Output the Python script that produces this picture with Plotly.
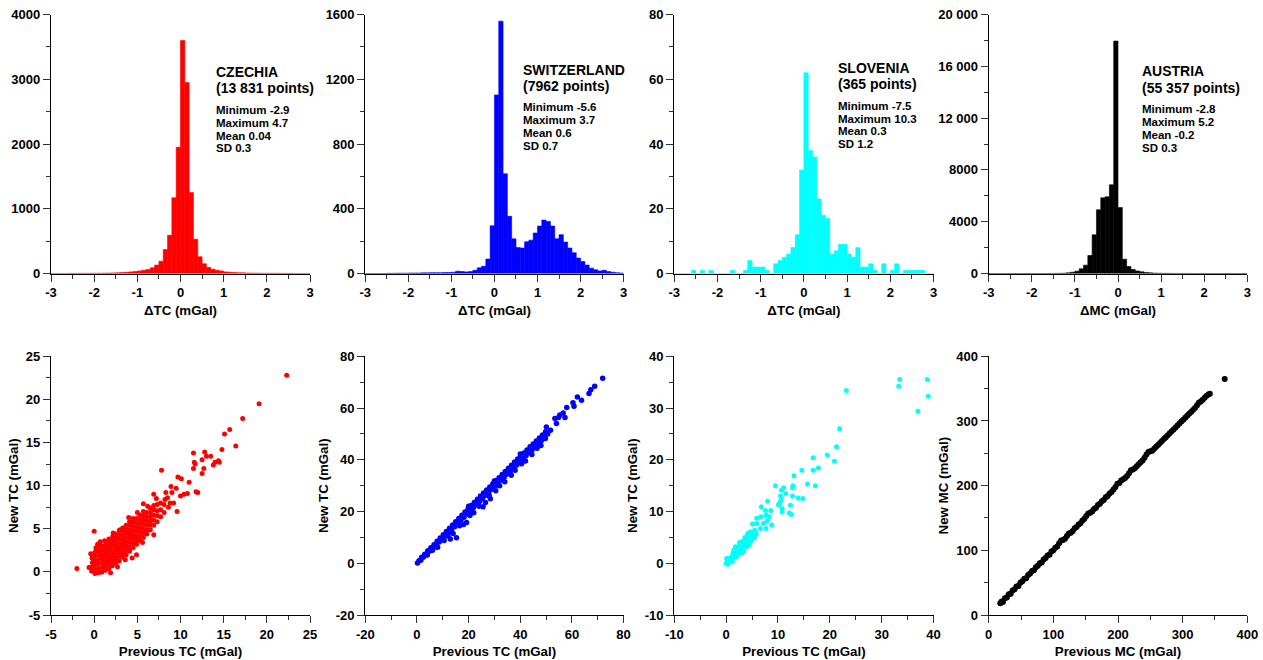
import numpy as np
import plotly.graph_objects as go

W, H = 1263, 660

# histogram bins: 60 bins of 0.1 mGal from -3 to 3 (bin centres)
bin_centres = np.round(np.arange(-2.95, 3.0, 0.1), 2)

czechia_counts = [1, 1, 1, 1, 2, 2, 2, 3, 3, 4, 4, 5, 6, 7, 9, 11, 14, 18,
                  25, 30, 40, 50, 60, 90, 130, 190, 370, 590, 1170, 1950,
                  3600, 2950, 1250, 530, 260, 150, 95, 67, 50, 40, 25, 20, 15, 12, 10,
                  8, 7, 6, 5, 4, 4, 3, 3, 2, 2, 2, 1, 1, 1, 1]
switzerland_counts = [0, 0, 0, 0, 0, 1, 1, 2, 2, 2, 3, 3, 3, 4, 4, 5, 5, 5,
                      6, 6, 8, 14, 12, 10, 12, 20, 35, 45, 89, 295,
                      1103, 1559, 616, 353, 214, 161, 157, 196, 206, 250, 293, 330, 322, 293, 214,
                      240, 194, 157, 128, 95, 74, 52, 33, 23, 16, 20, 12, 8, 5, 3]
slovenia_counts = [0, 0, 0, 0, 1, 0, 1, 0, 1, 0, 0, 0, 0, 1, 0, 0, 1, 4,
                   2, 2, 2, 1, 0, 3, 4, 5, 6, 8, 12, 32,
                   62, 38, 36, 23, 18, 17, 6, 7, 9, 9, 6, 5, 8, 2, 2,
                   3, 1, 0, 3, 0, 1, 3, 0, 1, 1, 1, 1, 1, 0, 0]
austria_counts = [0, 0, 0, 0, 0, 0, 0, 0, 0, 0, 1, 1, 2, 3, 5, 8, 12, 20,
                  50, 100, 180, 360, 644, 1390, 2986, 4916, 5843, 5920, 6847, 17950,
                  5097, 1107, 540, 310, 200, 130, 80, 50, 30, 20, 15, 10, 8, 6, 5,
                  4, 3, 3, 2, 2, 1, 1, 1, 1, 1, 0, 0, 0, 0, 0]

# scatter points (previous, new) in mGal
czechia_pts = [
    (-0.3, 0.1), (-0.3, 0.6), (-0.2, 1.1), (-0.25, 1.6), (-0.6, 0.5), (-2.0, 0.4), (-0.4, 2.1),
    (0.1, -0.2), (0.1, 0.3), (0.05, 0.8), (0.1, 1.3), (0.05, 1.8), (0.1, 2.3), (0.0, 4.7), (0.2, 2.8),
    (0.5, -0.1), (0.5, 0.4), (0.45, 0.9), (0.5, 1.4), (0.5, 1.9), (0.55, 2.4), (0.5, 2.9), (0.4, 3.2),
    (0.9, 0.0), (0.9, 0.5), (0.95, 1.0), (0.9, 1.5), (0.9, 2.0), (0.95, 2.5), (0.9, 3.0), (0.7, 3.5),
    (1.3, 0.2), (1.3, 0.7), (1.35, 1.2), (1.3, 1.7), (1.3, 2.2), (1.3, 2.7), (1.35, 3.2), (1.2, 3.6),
    (1.7, 0.4), (1.7, 0.9), (1.75, 1.4), (1.7, 1.9), (1.7, 2.4), (1.7, 2.9), (1.75, 3.4), (1.7, 3.8),
    (2.1, 0.7), (2.1, 1.2), (2.1, 1.7), (2.15, 2.2), (2.1, 2.7), (2.1, 3.2), (2.1, 3.7), (2.15, 4.1),
    (2.5, 1.0), (2.5, 1.5), (2.5, 2.0), (2.55, 2.5), (2.5, 3.0), (2.5, 3.5), (2.5, 4.0), (2.5, 4.4),
    (2.9, 1.3), (2.9, 1.8), (2.9, 2.3), (2.9, 2.8), (2.95, 3.3), (2.9, 3.8), (2.9, 4.3), (2.9, 4.8),
    (3.3, 1.7), (3.3, 2.2), (3.3, 2.7), (3.3, 3.2), (3.3, 3.7), (3.35, 4.2), (3.3, 4.7), (3.3, 5.1),
    (3.7, 2.0), (3.7, 2.5), (3.7, 3.0), (3.7, 3.5), (3.7, 4.0), (3.7, 4.5), (3.75, 5.0), (3.7, 5.4),
    (4.1, 2.4), (4.1, 2.9), (4.1, 3.4), (4.1, 3.9), (4.1, 4.4), (4.1, 4.9), (4.1, 5.4), (4.1, 5.8),
    (4.5, 2.8), (4.5, 3.3), (4.5, 3.8), (4.5, 4.3), (4.5, 4.8), (4.5, 5.3), (4.5, 5.8), (4.5, 6.2),
    (4.9, 3.2), (4.9, 3.7), (4.9, 4.2), (4.9, 4.7), (4.9, 5.2), (4.9, 5.7), (4.9, 6.2), (5.0, 6.9),
    (5.3, 3.6), (5.3, 4.1), (5.3, 4.6), (5.3, 5.1), (5.3, 5.6), (5.3, 6.1), (5.3, 6.6),
    (5.7, 4.0), (5.7, 4.5), (5.7, 5.0), (5.7, 5.5), (5.7, 6.0), (5.7, 6.5), (5.7, 7.0), (5.7, 7.9),
    (6.1, 4.4), (6.1, 4.9), (6.1, 5.4), (6.1, 5.9), (6.1, 6.4), (6.1, 6.9),
    (6.5, 4.9), (6.5, 5.4), (6.5, 5.9), (6.5, 6.4), (6.5, 6.9), (6.5, 7.4),
    (6.9, 5.4), (6.9, 6.0), (6.9, 6.6), (6.9, 7.2), (6.9, 7.7), (6.9, 9.0), (6.9, 4.3),
    (7.3, 5.8), (7.3, 6.5), (7.3, 7.1), (7.3, 7.8), (7.7, 6.4), (7.7, 7.2), (7.7, 8.0), (7.8, 11.8),
    (8.1, 6.9), (8.1, 7.8), (8.2, 8.4), (8.6, 7.5), (8.5, 8.6), (8.9, 9.9), (9.2, 8.0), (9.5, 9.7),
    (9.6, 7.0), (9.7, 11.0), (10.0, 8.8), (10.1, 10.8), (10.4, 9.0), (10.8, 9.1), (11.0, 10.4),
    (3.0, 4.9), (4.4, 1.6), (4.9, 2.0), (2.2, 4.5), (3.6, 1.4), (5.6, 3.4), (1.9, -0.1), (7.2, 8.5),
    (8.3, 9.2), (6.2, 7.6), (4.0, 6.3), (2.7, 0.6), (8.8, 8.0), (9.0, 9.2),
    (11.5, 13.8), (11.6, 12.7), (11.7, 12.5), (11.5, 12.0), (11.8, 9.3), (12.0, 9.2),
    (12.5, 13.0), (12.7, 12.0), (12.5, 11.4), (12.8, 13.9), (13.0, 13.4), (13.5, 13.4),
    (13.8, 12.4), (14.0, 12.7), (14.5, 12.7), (14.4, 12.9), (14.8, 14.2), (16.4, 14.6),
    (15.1, 16.0), (15.7, 16.5), (17.2, 17.8), (19.1, 19.5), (22.3, 22.8),
]
switzerland_pts = [
    (0.2, 0.1), (0.8, 1.0), (1.5, 1.2), (1.8, 2.3), (2.6, 2.4), (3.0, 3.5), (3.8, 3.6), (4.2, 4.8),
    (5.0, 4.7), (5.4, 6.0), (6.2, 5.9), (6.6, 7.2), (7.4, 7.0), (7.8, 8.5), (8.6, 8.2), (9.0, 9.8),
    (9.8, 9.3), (10.2, 11.0), (11.0, 10.6), (11.4, 12.3), (12.2, 11.8), (12.6, 13.5), (13.4, 13.0),
    (13.8, 14.8), (14.6, 14.1), (15.0, 16.0), (15.8, 15.3), (16.2, 17.3), (17.0, 16.6), (17.4, 18.6),
    (18.2, 17.8), (18.6, 19.8), (19.4, 19.0), (19.8, 21.0), (20.6, 20.3), (21.0, 22.3), (21.8, 21.4),
    (22.2, 23.5), (23.0, 22.6), (23.4, 24.7), (24.2, 23.9), (24.6, 26.0), (25.4, 25.0), (25.8, 27.2),
    (26.6, 26.3), (27.0, 28.3), (27.8, 27.4), (28.2, 29.5), (29.0, 28.6), (29.4, 30.7), (30.2, 29.8),
    (30.6, 32.0), (31.4, 31.0), (31.8, 33.1), (32.6, 32.2), (33.0, 34.3), (33.8, 33.3), (34.2, 35.5),
    (35.0, 34.5), (35.4, 36.7), (36.2, 35.7), (36.6, 37.9), (37.4, 36.9), (37.8, 39.1), (38.6, 38.0),
    (39.0, 40.3), (39.8, 39.2), (40.2, 41.5), (41.0, 40.4), (41.4, 42.6), (42.2, 41.6), (42.6, 43.8),
    (43.4, 42.7), (43.8, 45.0), (44.6, 43.9), (45.0, 46.1), (45.8, 45.1), (46.2, 47.3), (47.0, 46.3),
    (47.4, 48.4), (48.2, 47.5), (48.6, 49.6), (49.4, 48.7), (49.8, 50.8), (50.6, 50.0), (50.1, 52.7),
    (14.0, 11.5), (18.0, 15.0), (22.0, 19.5), (26.5, 23.5), (30.5, 28.0), (34.0, 31.5), (36.5, 34.0),
    (42.0, 39.5), (44.5, 42.0), (10.5, 8.8), (8.0, 6.2), (48.0, 45.5), (25.6, 21.8), (28.4, 24.9),
    (19.2, 15.8), (15.3, 9.9), (12.9, 9.4), (7.6, 6.4), (49.7, 48.2), (51.7, 51.4),
    (16.5, 14.5), (20.5, 18.5), (24.0, 22.0), (28.0, 26.0), (32.0, 30.0), (38.0, 36.0), (40.5, 38.5),
    (46.5, 44.5), (12.0, 10.5), (6.0, 5.0), (4.0, 3.2), (20.0, 22.0), (30.0, 31.8), (40.0, 42.2),
    (53.4, 56.0), (54.0, 54.0), (54.8, 56.3), (55.3, 57.3), (57.3, 56.3), (56.6, 58.1),
    (58.0, 60.2), (60.8, 60.7), (60.4, 62.0), (62.1, 64.3), (63.7, 63.0), (66.6, 65.6),
    (67.3, 67.1), (68.8, 68.4), (71.9, 71.5),
]
slovenia_pts = [
    (0.0, 0.0), (0.2, 0.8), (0.5, 0.2), (0.8, 0.6), (1.0, 1.2), (1.2, 0.4), (1.3, 1.8), (1.5, 2.6),
    (1.6, 1.1), (1.8, 3.2), (1.9, 1.7), (2.1, 2.4), (2.2, 3.0), (2.4, 1.9), (2.5, 3.4), (2.7, 2.5),
    (2.8, 3.8), (3.0, 2.9), (3.1, 4.2), (3.3, 3.4), (3.4, 2.3), (3.5, 4.4), (3.7, 3.7), (3.8, 4.9),
    (4.0, 4.1), (4.1, 5.4), (4.3, 4.6), (4.4, 3.6), (4.5, 5.2), (4.7, 5.8), (4.8, 4.4), (5.0, 5.5),
    (5.2, 6.0), (5.4, 4.9), (5.5, 6.4), (5.8, 5.6), (3.0, 2.0), (2.0, 1.3), (1.0, 0.4), (0.3, -0.2),
    (1.4, 2.2), (2.6, 4.0), (3.6, 5.0), (4.2, 5.8), (0.6, 0.9), (2.3, 2.5), (3.9, 3.2), (0.1, 0.9),
    (4.7, 6.1), (5.5, 5.3), (5.6, 6.1), (5.9, 8.7), (5.1, 7.6), (5.9, 7.7), (6.6, 6.7), (7.7, 6.7),
    (7.2, 7.7), (8.8, 7.4), (7.9, 8.2), (8.3, 9.0), (6.7, 9.0), (7.7, 9.3), (7.6, 10.2), (8.6, 10.2),
    (6.8, 10.9), (8.0, 12.0), (10.6, 12.2), (10.8, 9.9), (10.1, 11.3), (10.8, 10.6), (10.3, 11.6),
    (10.5, 13.0), (9.5, 15.0), (10.7, 14.1), (11.1, 14.6), (11.5, 13.5), (12.2, 9.7), (12.6, 9.4),
    (12.4, 11.2), (12.8, 13.0), (12.9, 15.0), (12.8, 14.6), (13.9, 12.6), (14.8, 12.5), (17.2, 15.0),
    (15.7, 15.3), (13.1, 16.9), (14.6, 18.0), (16.8, 18.0), (17.8, 18.4), (16.8, 20.4), (19.5, 20.9),
    (20.9, 19.7), (21.3, 22.5), (21.9, 26.0), (23.2, 33.4), (33.3, 34.2), (33.5, 35.5), (38.8, 35.5),
    (39.0, 32.3), (37.0, 29.4),
]
austria_pts = [
    (18, 18), (20, 21), (22, 20), (25, 26), (28, 27), (31, 32), (34, 33), (37, 38), (40, 40), (43, 44),
    (46, 45), (49, 50), (52, 52), (55, 56), (58, 57), (61, 62), (64, 64), (67, 68), (70, 69), (73, 74),
    (76, 76), (79, 80), (82, 81), (85, 86), (88, 88), (91, 92), (94, 93), (97, 98), (100, 100),
    (103, 104), (106, 106), (109, 111), (112, 115), (115, 116), (118, 118), (121, 122), (124, 126),
    (127, 127), (130, 130), (133, 134), (136, 136), (139, 140), (142, 142), (145, 146), (148, 149),
    (151, 153), (154, 157), (157, 158), (160, 160), (163, 164), (166, 166), (169, 170), (172, 172),
    (175, 176), (178, 178), (181, 182), (184, 184), (187, 188), (190, 190), (193, 194), (196, 198),
    (199, 203), (202, 204), (205, 208), (208, 210), (211, 212), (214, 215), (217, 219), (220, 224),
    (223, 225), (226, 227), (229, 230), (232, 233), (235, 236), (238, 239), (241, 243), (244, 248),
    (247, 252), (250, 253), (253, 254), (256, 257), (259, 260), (262, 263), (265, 266), (268, 269),
    (271, 272), (274, 275), (277, 278), (280, 281), (283, 284), (286, 287), (289, 290), (292, 293),
    (295, 296), (298, 299), (301, 302), (304, 305), (307, 308), (310, 311), (313, 314), (316, 317),
    (319, 320), (322, 324), (325, 328), (328, 330), (331, 333), (334, 336), (337, 339), (340, 341),
    (342, 342), (365, 365),
]

hist_x_ticks = [-3, -2, -1, 0, 1, 2, 3]
hist_x_labels = ["-3", "-2", "-1", "0", "1", "2", "3"]
austria_y_ticks = [0, 4000, 8000, 12000, 16000, 20000]
austria_y_labels = ["0", "4000", "8000", "12 000", "16 000", "20 000"]
# scatter axes share the same ticks on x and y
scatter_ticks = [
    [-5, 0, 5, 10, 15, 20, 25],
    [-20, 0, 20, 40, 60, 80],
    [-10, 0, 10, 20, 30, 40],
    [0, 100, 200, 300, 400],
]
scatter_labels = [
    ["-5", "0", "5", "10", "15", "20", "25"],
    ["-20", "0", "20", "40", "60", "80"],
    ["-10", "0", "10", "20", "30", "40"],
    ["0", "100", "200", "300", "400"],
]

panels = [
    # name, points label, stats, colour, counts, scatter pts, quantity
    ("CZECHIA", "(13 831 points)", ["Minimum -2.9", "Maximum 4.7", "Mean 0.04", "SD 0.3"],
     "#ff0000", czechia_counts, czechia_pts, "TC"),
    ("SWITZERLAND", "(7962 points)", ["Minimum -5.6", "Maximum 3.7", "Mean 0.6", "SD 0.7"],
     "#0000ff", switzerland_counts, switzerland_pts, "TC"),
    ("SLOVENIA", "(365 points)", ["Minimum -7.5", "Maximum 10.3", "Mean 0.3", "SD 1.2"],
     "#00ffff", slovenia_counts, slovenia_pts, "TC"),
    ("AUSTRIA", "(55 357 points)", ["Minimum -2.8", "Maximum 5.2", "Mean -0.2", "SD 0.3"],
     "#000000", austria_counts, austria_pts, "MC"),
]

hist_y = [(4000, 1000), (1600, 400), (80, 20), (20000, 4000)]
scat_range = [(-5, 25, 5), (-20, 80, 20), (-10, 40, 10), (0, 400, 100)]
marker_size = [5, 5.5, 5, 6]

# layout geometry in pixels
col_px = [(51, 310), (365.3, 623.6), (674.3, 933.5), (988.7, 1247.3)]
top_px = (14.5, 273.5)
bot_px = (356.3, 615)
text_px = [(215, 72), (521.7, 69.5), (837.3, 67.7), (1140.7, 71.3)]

FONT = "Liberation Sans, Arial, sans-serif"
tickfont = dict(family=FONT, size=13, color="black", weight="bold")
titlefont = dict(family=FONT, size=13.3, color="black", weight="bold")


def axis_style(rng, dtick, domain, anchor):
    return dict(
        domain=domain, anchor=anchor, range=list(rng), dtick=dtick, automargin=False,
        showline=True, linecolor="black", linewidth=1.3,
        ticks="outside", ticklen=7, tickwidth=1.3, tickcolor="#333",
        minor=dict(ticks="outside", ticklen=4, tickwidth=1.3, tickcolor="#333", dtick=dtick / 2),
        showgrid=False, zeroline=False, tickfont=tickfont, fixedrange=True,
    )


fig = go.Figure()
layout = {}
annotations = []

for i, (name, npts, stats, colour, counts, pts, q) in enumerate(panels):
    c0, c1 = col_px[i]
    xdom = [c0 / W, c1 / W]
    top_dom = [1 - top_px[1] / H, 1 - top_px[0] / H]
    bot_dom = [1 - bot_px[1] / H, 1 - bot_px[0] / H]
    ht, hb = i + 1, i + 5

    fig.add_trace(go.Bar(x=bin_centres, y=counts, width=0.1,
                         marker=dict(color=colour, line=dict(color=colour, width=0.6)),
                         xaxis=f"x{ht}", yaxis=f"y{ht}", showlegend=False))
    xs = [p[0] for p in pts]
    ys = [p[1] for p in pts]
    fig.add_trace(go.Scatter(x=xs, y=ys, mode="markers", marker=dict(color=colour, size=marker_size[i]),
                             xaxis=f"x{hb}", yaxis=f"y{hb}", showlegend=False))

    xa = axis_style((-3, 3), 1, xdom, f"y{ht}")
    xa.update(tickvals=hist_x_ticks, ticktext=hist_x_labels,
              title=dict(text="ΔTC (mGal)" if q == "TC" else "ΔMC (mGal)", font=titlefont, standoff=6))
    ymax, ydt = hist_y[i]
    ya = axis_style((0, ymax), ydt, top_dom, f"x{ht}")
    if i == 3:
        ya.update(tickvals=austria_y_ticks, ticktext=austria_y_labels)
    layout[f"xaxis{ht}"] = xa
    layout[f"yaxis{ht}"] = ya

    lo, hi, dt = scat_range[i]
    xb = axis_style((lo, hi), dt, xdom, f"y{hb}")
    xb.update(tickvals=scatter_ticks[i], ticktext=scatter_labels[i],
              title=dict(text=f"Previous {q} (mGal)", font=titlefont, standoff=5))
    yb = axis_style((lo, hi), dt, bot_dom, f"x{hb}")
    yb.update(tickvals=scatter_ticks[i], ticktext=scatter_labels[i],
              title=dict(text=f"New {q} (mGal)", font=titlefont, standoff=4))
    layout[f"xaxis{hb}"] = xb
    layout[f"yaxis{hb}"] = yb

    tx, ty = text_px[i]
    lines = [(name, 14, 0), (npts, 14, 16.5)] + [(s, 11.5, 38 + 12.8 * k) for k, s in enumerate(stats)]
    for txt, fs, dy in lines:
        annotations.append(dict(
            text=txt, x=tx / W, y=1 - (ty + dy) / H, xref="paper", yref="paper",
            xanchor="left", yanchor="middle", showarrow=False, borderpad=0,
            font=dict(family=FONT, size=fs, color="black", weight="bold"),
        ))

fig.update_layout(
    width=W, height=H, margin=dict(l=0, r=0, t=0, b=0),
    paper_bgcolor="white", plot_bgcolor="white",
    annotations=annotations, **layout,
)

# drop the browser's default page margin so the figure sits at the window's corner
fig.write_html("out.html", config={"displayModeBar": False},
               post_script="document.body.style.margin='0';")
